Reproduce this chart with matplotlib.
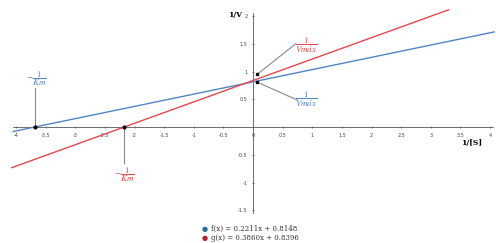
import matplotlib.pyplot as plt
import numpy as np

# Lineweaver-Burk lines
f_slope, f_icpt = 0.2211, 0.8148
g_slope, g_icpt = 0.3860, 0.8396
f_xrange = [-4.05, 4.07]
g_xrange = [-4.07, 3.30]

x_ticks = [-4, -3.5, -3, -2.5, -2, -1.5, -1, -0.5, 0, 0.5, 1, 1.5, 2, 2.5, 3, 3.5, 4]
y_ticks = [-1.5, -1, -0.5, 0.5, 1, 1.5, 2]

legend_labels = ['f(x) = 0.2211x + 0.8148', 'g(x) = 0.3860x + 0.8396']

blue = '#4f86c6'
red = '#e8454f'

plt.rcParams['mathtext.fontset'] = 'stix'

fig = plt.figure(figsize=(4.96, 2.43), dpi=100)
ax = fig.add_axes([0, 0, 1, 1])
ax.set_xlim(-4.27, 4.10)
ax.set_ylim(-2.09, 2.29)

fx = np.array(f_xrange)
gx = np.array(g_xrange)
ax.plot(fx, f_slope * fx + f_icpt, color=blue, lw=1.0, zorder=3)
ax.plot(gx, g_slope * gx + g_icpt, color=red, lw=1.0, zorder=3)

# axes through origin
for s in ['top', 'right']:
    ax.spines[s].set_visible(False)
ax.spines['left'].set_position(('data', 0))
ax.spines['bottom'].set_position(('data', 0))
ax.spines['left'].set_bounds(-1.55, 2.05)
ax.spines['bottom'].set_bounds(-4.05, 4.05)
ax.spines['left'].set_color('#555555')
ax.spines['bottom'].set_color('#555555')
ax.spines['left'].set_linewidth(0.6)
ax.spines['bottom'].set_linewidth(0.6)

ax.set_xticks(x_ticks)
ax.set_xticklabels([('%g' % t) for t in x_ticks])
ax.set_yticks(y_ticks)
ax.set_yticklabels([('%g' % t) for t in y_ticks])
ax.tick_params(axis='both', direction='inout', length=2, width=0.5,
               labelsize=3.5, colors='#444444', pad=3)

ax.text(-0.3, 2.02, '1/V', fontsize=5.5, fontweight='bold', ha='center', va='center', family='DejaVu Serif')
ax.text(3.68, -0.29, '1/[S]', fontsize=5.5, fontweight='bold', ha='center', va='center', family='DejaVu Serif')

# annotations
ann = dict(color='#888888', lw=0.8, zorder=4)
fkm = -f_icpt / f_slope
gkm = -g_icpt / g_slope
ax.plot([fkm, fkm], [0, 0.70], **ann)
ax.plot([fkm], [0], 'o', color='black', ms=2, zorder=5)
ax.text(fkm + 0.03, 0.88, r'$-\dfrac{1}{Km}$', color=blue, fontsize=6.5, ha='center', va='center')

ax.plot([gkm, gkm], [0, -0.65], **ann)
ax.plot([gkm], [0], 'o', color='black', ms=2, zorder=5)
ax.text(gkm, -0.85, r'$-\dfrac{1}{Km}$', color=red, fontsize=6.5, ha='center', va='center')

ax.plot([0.07, 0.72], [0.95, 1.50], **ann)
ax.plot([0.07], [0.95], 's', color='black', ms=1.8, zorder=5)
ax.text(0.89, 1.48, r'$\dfrac{1}{Vm\acute{a}x}$', color=red, fontsize=6.5, ha='center', va='center')

ax.plot([0.07, 0.74], [0.81, 0.49], **ann)
ax.plot([0.07], [0.81], 's', color='black', ms=1.8, zorder=5)
ax.text(0.89, 0.50, r'$\dfrac{1}{Vm\acute{a}x}$', color=blue, fontsize=6.5, ha='center', va='center')

# legend
leg_colors = ['#2a6a9e', '#b02030']
for i, (lab, c) in enumerate(zip(legend_labels, leg_colors)):
    yy = 1 - (229 + 9 * i) / 243
    fig.text(205 / 496, yy, u'\u25cf', color=c, fontsize=5, ha='center', va='center')
    fig.text(211 / 496, yy, lab, color='#333333', fontsize=5, ha='left', va='center', family='DejaVu Serif')

fig.savefig('out.png', dpi=100)
